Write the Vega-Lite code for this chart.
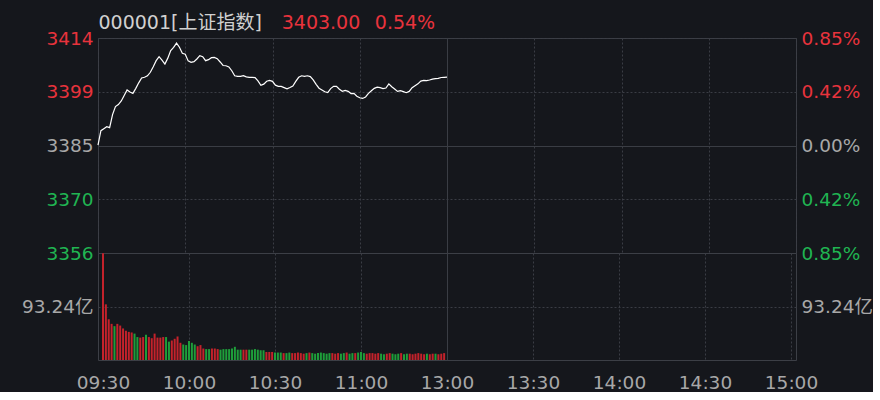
{
"$schema": "https://vega.github.io/schema/vega-lite/v6.json",
"background": "#15171c",
"padding": {"left": 5, "top": 7, "right": 0, "bottom": 0},
"config": {
  "view": {"stroke": "#3c3f46", "strokeWidth": 1},
  "font": "DejaVu Sans, Noto Sans CJK SC",
  "axis": {"labelFont": "DejaVu Sans, Noto Sans CJK SC", "labelFontSize": 18.5, "labelColor": "#a8a8a8", "domain": false, "ticks": false, "tickSize": 0, "title": null, "gridColor": "#3a3d44", "labelFlush": false, "labelOverlap": false}
},
"datasets": {"m": [
{"t":0,"price":3384.83,"vol":186,"dir":"up"},
{"t":1,"price":3388.68,"vol":97,"dir":"up"},
{"t":2,"price":3389.22,"vol":71,"dir":"up"},
{"t":3,"price":3389.76,"vol":63,"dir":"up"},
{"t":4,"price":3389.49,"vol":59,"dir":"down"},
{"t":5,"price":3393.00,"vol":63,"dir":"up"},
{"t":6,"price":3395.15,"vol":60,"dir":"up"},
{"t":7,"price":3395.69,"vol":55,"dir":"up"},
{"t":8,"price":3396.64,"vol":51,"dir":"up"},
{"t":9,"price":3398.12,"vol":49,"dir":"up"},
{"t":10,"price":3399.60,"vol":48,"dir":"up"},
{"t":11,"price":3399.06,"vol":46,"dir":"down"},
{"t":12,"price":3398.66,"vol":40,"dir":"down"},
{"t":13,"price":3400.01,"vol":39,"dir":"up"},
{"t":14,"price":3401.49,"vol":40,"dir":"up"},
{"t":15,"price":3402.78,"vol":44,"dir":"down"},
{"t":16,"price":3402.97,"vol":40,"dir":"up"},
{"t":17,"price":3403.38,"vol":38,"dir":"up"},
{"t":18,"price":3404.32,"vol":46,"dir":"up"},
{"t":19,"price":3405.80,"vol":39,"dir":"up"},
{"t":20,"price":3407.42,"vol":39,"dir":"up"},
{"t":21,"price":3408.50,"vol":40,"dir":"up"},
{"t":22,"price":3407.56,"vol":40,"dir":"down"},
{"t":23,"price":3406.53,"vol":32,"dir":"down"},
{"t":24,"price":3408.10,"vol":34,"dir":"up"},
{"t":25,"price":3410.12,"vol":37,"dir":"up"},
{"t":26,"price":3410.98,"vol":41,"dir":"up"},
{"t":27,"price":3412.14,"vol":30,"dir":"up"},
{"t":28,"price":3411.01,"vol":27,"dir":"down"},
{"t":29,"price":3409.39,"vol":26,"dir":"down"},
{"t":30,"price":3409.17,"vol":33,"dir":"down"},
{"t":31,"price":3407.37,"vol":30,"dir":"down"},
{"t":32,"price":3406.96,"vol":27,"dir":"down"},
{"t":33,"price":3407.15,"vol":24,"dir":"up"},
{"t":34,"price":3407.88,"vol":26,"dir":"up"},
{"t":35,"price":3408.77,"vol":20,"dir":"up"},
{"t":36,"price":3408.50,"vol":19,"dir":"down"},
{"t":37,"price":3407.42,"vol":19,"dir":"down"},
{"t":38,"price":3407.69,"vol":20,"dir":"up"},
{"t":39,"price":3408.23,"vol":20,"dir":"up"},
{"t":40,"price":3408.28,"vol":19,"dir":"up"},
{"t":41,"price":3407.96,"vol":18,"dir":"down"},
{"t":42,"price":3407.07,"vol":19,"dir":"down"},
{"t":43,"price":3406.13,"vol":19,"dir":"down"},
{"t":44,"price":3406.07,"vol":19,"dir":"down"},
{"t":45,"price":3405.75,"vol":20,"dir":"down"},
{"t":46,"price":3404.73,"vol":23,"dir":"down"},
{"t":47,"price":3403.38,"vol":18,"dir":"down"},
{"t":48,"price":3403.24,"vol":18,"dir":"down"},
{"t":49,"price":3403.24,"vol":18,"dir":"up"},
{"t":50,"price":3403.40,"vol":18,"dir":"up"},
{"t":51,"price":3403.08,"vol":18,"dir":"down"},
{"t":52,"price":3402.97,"vol":18,"dir":"down"},
{"t":53,"price":3402.95,"vol":19,"dir":"down"},
{"t":54,"price":3402.89,"vol":18,"dir":"down"},
{"t":55,"price":3402.00,"vol":17,"dir":"down"},
{"t":56,"price":3400.82,"vol":17,"dir":"down"},
{"t":57,"price":3401.14,"vol":14,"dir":"up"},
{"t":58,"price":3401.92,"vol":14,"dir":"up"},
{"t":59,"price":3402.14,"vol":14,"dir":"up"},
{"t":60,"price":3401.89,"vol":13,"dir":"down"},
{"t":61,"price":3400.87,"vol":13,"dir":"down"},
{"t":62,"price":3400.55,"vol":13,"dir":"down"},
{"t":63,"price":3400.55,"vol":12,"dir":"up"},
{"t":64,"price":3400.22,"vol":12,"dir":"down"},
{"t":65,"price":3399.87,"vol":13,"dir":"down"},
{"t":66,"price":3400.22,"vol":12,"dir":"up"},
{"t":67,"price":3400.65,"vol":12,"dir":"up"},
{"t":68,"price":3401.89,"vol":13,"dir":"up"},
{"t":69,"price":3402.97,"vol":12,"dir":"up"},
{"t":70,"price":3403.38,"vol":11,"dir":"up"},
{"t":71,"price":3403.24,"vol":12,"dir":"down"},
{"t":72,"price":3403.38,"vol":13,"dir":"up"},
{"t":73,"price":3403.16,"vol":12,"dir":"down"},
{"t":74,"price":3402.30,"vol":11,"dir":"down"},
{"t":75,"price":3401.09,"vol":12,"dir":"down"},
{"t":76,"price":3400.06,"vol":13,"dir":"down"},
{"t":77,"price":3399.60,"vol":12,"dir":"down"},
{"t":78,"price":3399.09,"vol":11,"dir":"down"},
{"t":79,"price":3398.87,"vol":12,"dir":"down"},
{"t":80,"price":3399.95,"vol":12,"dir":"up"},
{"t":81,"price":3400.55,"vol":11,"dir":"up"},
{"t":82,"price":3400.55,"vol":12,"dir":"up"},
{"t":83,"price":3399.79,"vol":11,"dir":"down"},
{"t":84,"price":3399.23,"vol":12,"dir":"down"},
{"t":85,"price":3399.47,"vol":13,"dir":"up"},
{"t":86,"price":3399.20,"vol":11,"dir":"down"},
{"t":87,"price":3398.61,"vol":12,"dir":"down"},
{"t":88,"price":3398.66,"vol":12,"dir":"up"},
{"t":89,"price":3397.90,"vol":13,"dir":"down"},
{"t":90,"price":3397.50,"vol":14,"dir":"down"},
{"t":91,"price":3397.31,"vol":12,"dir":"down"},
{"t":92,"price":3397.72,"vol":11,"dir":"up"},
{"t":93,"price":3398.66,"vol":12,"dir":"up"},
{"t":94,"price":3399.36,"vol":12,"dir":"up"},
{"t":95,"price":3400.01,"vol":11,"dir":"up"},
{"t":96,"price":3400.33,"vol":12,"dir":"up"},
{"t":97,"price":3400.22,"vol":11,"dir":"down"},
{"t":98,"price":3399.95,"vol":10,"dir":"down"},
{"t":99,"price":3400.09,"vol":11,"dir":"up"},
{"t":100,"price":3401.22,"vol":12,"dir":"up"},
{"t":101,"price":3400.44,"vol":11,"dir":"down"},
{"t":102,"price":3399.85,"vol":10,"dir":"down"},
{"t":103,"price":3399.20,"vol":11,"dir":"down"},
{"t":104,"price":3399.41,"vol":12,"dir":"up"},
{"t":105,"price":3399.14,"vol":10,"dir":"down"},
{"t":106,"price":3398.85,"vol":11,"dir":"down"},
{"t":107,"price":3399.20,"vol":11,"dir":"up"},
{"t":108,"price":3400.20,"vol":10,"dir":"up"},
{"t":109,"price":3400.74,"vol":11,"dir":"up"},
{"t":110,"price":3401.22,"vol":12,"dir":"up"},
{"t":111,"price":3401.95,"vol":11,"dir":"up"},
{"t":112,"price":3402.16,"vol":10,"dir":"up"},
{"t":113,"price":3402.08,"vol":11,"dir":"down"},
{"t":114,"price":3402.24,"vol":10,"dir":"up"},
{"t":115,"price":3402.49,"vol":11,"dir":"up"},
{"t":116,"price":3402.60,"vol":11,"dir":"down"},
{"t":117,"price":3402.70,"vol":10,"dir":"up"},
{"t":118,"price":3402.92,"vol":11,"dir":"up"},
{"t":119,"price":3402.97,"vol":12,"dir":"up"},
{"t":120,"price":3403.00,"dir":"up"}
]},
"data": {"name": "m"},
"spacing": 0,
"bounds": "flush",
"vconcat": [
  {
    "width": 698, "height": 215,
    "layer": [
      {
        "mark": {"type": "line", "color": "#ffffff", "strokeWidth": 1.2},
        "encoding": {
          "x": {"field": "t", "type": "quantitative", "scale": {"domain": [0, 240], "nice": false, "zero": false},
            "axis": {"orient": "bottom", "values": [0, 30, 60, 90, 120, 150, 180, 210, 240], "labels": false, "grid": true,
              "gridDash": {"condition": {"test": "datum.value == 120", "value": []}, "value": [2, 2]},
              "minExtent": 0, "maxExtent": 0}},
          "y": {"field": "price", "type": "quantitative", "scale": {"domain": [3355.95, 3413.49], "nice": false, "zero": false},
            "axis": {"orient": "left", "values": [3355.95, 3370.34, 3384.72, 3399.11, 3413.49],
              "labelExpr": "datum.value > 3410 ? '3414' : datum.value > 3395 ? '3399' : datum.value > 3380 ? '3385' : datum.value > 3365 ? '3370' : '3356'",
              "labelColor": {"expr": "datum.value > 3390 ? '#e8333c' : datum.value < 3380 ? '#20b552' : '#a8a8a8'"},
              "labelPadding": 5, "minExtent": 92, "maxExtent": 92, "grid": true,
              "gridDash": {"condition": {"test": "abs(datum.value - 3384.72) < 1", "value": []}, "value": [2, 2]}}}
        }
      },
      {
        "mark": {"type": "line", "opacity": 0},
        "encoding": {
          "x": {"field": "t", "type": "quantitative", "scale": {"domain": [0, 240], "nice": false, "zero": false},
            "axis": {"orient": "top", "values": [0, 63, 95], "grid": false,
              "labelExpr": "datum.value == 0 ? '000001[上证指数]' : datum.value == 63 ? '3403.00' : '0.54%'",
              "labelColor": {"expr": "datum.value == 0 ? '#d0d0d0' : '#e8333c'"},
              "labelAlign": "left", "labelFontSize": 19, "labelPadding": 6, "minExtent": 30, "maxExtent": 30}},
          "y": {"field": "price", "type": "quantitative", "scale": {"domain": [3355.95, 3413.49], "nice": false, "zero": false},
            "axis": {"orient": "right", "values": [3355.95, 3370.34, 3384.72, 3399.11, 3413.49], "grid": false,
              "labelExpr": "datum.value > 3410 ? '0.85%' : datum.value > 3395 ? '0.42%' : datum.value > 3380 ? '0.00%' : datum.value > 3365 ? '0.42%' : '0.85%'",
              "labelColor": {"expr": "datum.value > 3390 ? '#e8333c' : datum.value < 3380 ? '#20b552' : '#a8a8a8'"},
              "labelPadding": 5}}
        }
      }
    ],
    "resolve": {"axis": {"x": "independent", "y": "independent"}}
  },
  {
    "width": 698, "height": 107,
    "layer": [
      {
        "mark": {"type": "bar", "size": 2, "orient": "vertical"},
        "encoding": {
          "x": {"field": "t", "type": "quantitative", "scale": {"domain": [0, 240], "nice": false, "zero": false},
            "axis": {"orient": "bottom", "values": [0, 30, 60, 90, 120, 150, 180, 210, 240],
              "labelExpr": "['09:30','10:00','10:30','11:00','13:00','13:30','14:00','14:30','15:00'][round(datum.value/30)]",
              "labelPadding": 13, "grid": true,
              "gridDash": {"condition": {"test": "datum.value == 120", "value": []}, "value": [2, 2]}}},
          "y": {"field": "vol", "type": "quantitative", "scale": {"domain": [0, 186.48], "nice": false},
            "axis": {"orient": "left", "values": [93.24], "labelExpr": "'93.24亿'", "grid": true, "gridDash": [2, 2],
              "labelPadding": 5, "minExtent": 92, "maxExtent": 92}},
          "color": {"field": "dir", "type": "nominal", "scale": {"domain": ["up", "down"], "range": ["#c4222b", "#1e9e3a"]}, "legend": null}
        }
      },
      {
        "mark": {"type": "bar", "size": 2, "orient": "vertical", "opacity": 0},
        "encoding": {
          "x": {"field": "t", "type": "quantitative", "scale": {"domain": [0, 240], "nice": false, "zero": false}},
          "y": {"field": "vol", "type": "quantitative", "scale": {"domain": [0, 186.48], "nice": false},
            "axis": {"orient": "right", "values": [93.24], "labelExpr": "'93.24亿'", "grid": false, "labelPadding": 5}}
        }
      }
    ],
    "resolve": {"axis": {"y": "independent"}}
  }
]
}
